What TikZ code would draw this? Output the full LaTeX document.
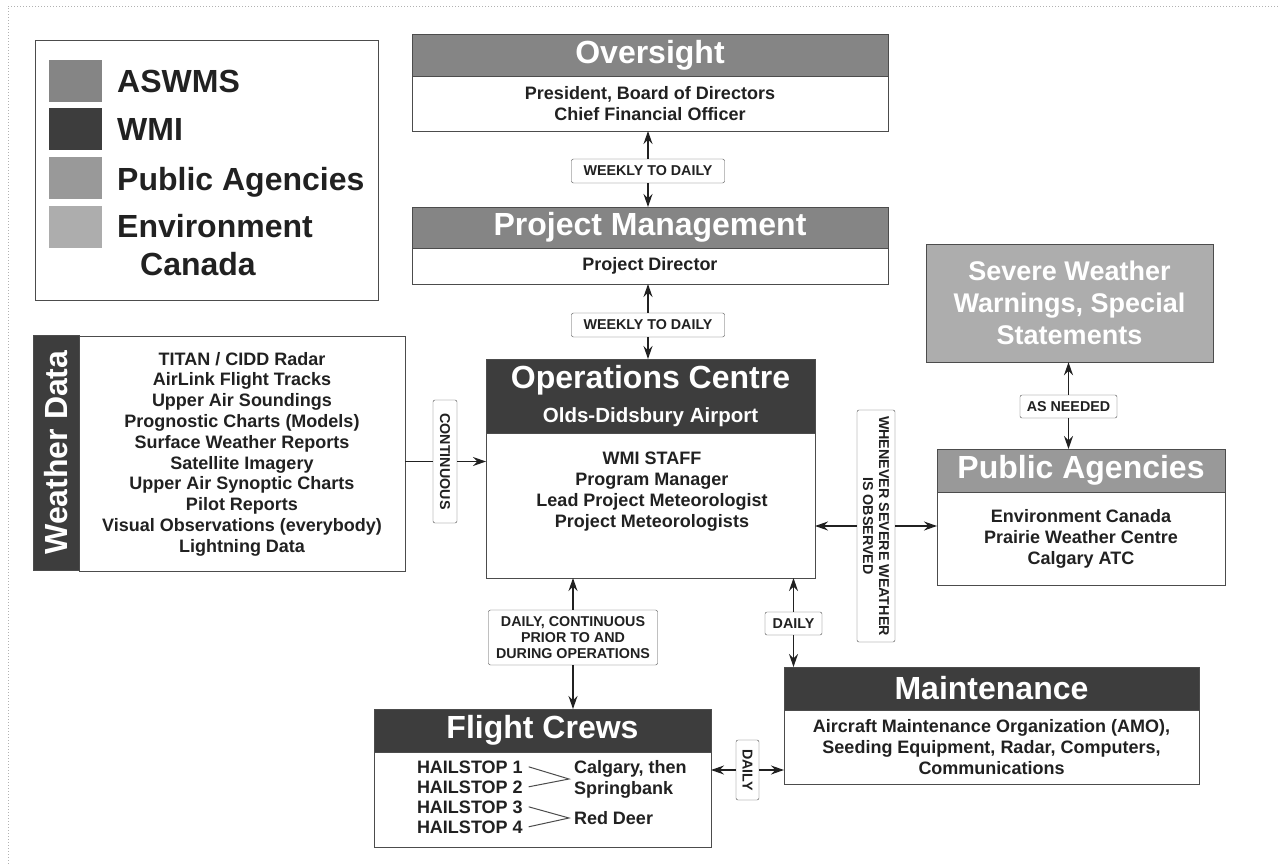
\documentclass[tikz,border=0pt]{standalone}
\usepackage{fontspec}
\setmainfont{Liberation Sans}
\usetikzlibrary{arrows.meta,positioning,calc}
\definecolor{aswms}{gray}{0.52}
\definecolor{wmi}{gray}{0.24}
\definecolor{pubag}{gray}{0.6}
\definecolor{envcan}{gray}{0.68}
\definecolor{edge}{gray}{0.3}
\definecolor{ink}{gray}{0.13}
\tikzset{headbox/.style={rectangle, draw=edge, fill=#1, text=white, inner sep=0pt, outer sep=0pt, minimum height=42pt, align=center, font=\fontsize{32}{36}\selectfont\bfseries},
bodytext/.style={inner sep=0pt, outer sep=0pt, align=center, text=ink, font=\fontsize{18}{21}\selectfont\bfseries},
bodybox/.style={bodytext, rectangle, draw=edge, fill=white},
tagbox/.style={rectangle, rounded corners=2pt, draw=edge, fill=white, inner xsep=4pt, inner ysep=0pt, align=center, text=ink, font=\fontsize{14.3}{16}\selectfont\bfseries},
wire/.style={draw=ink, line width=1.3pt},
onearrow/.style={-{Stealth[length=13pt,width=9pt]}},
swatch/.style={rectangle, fill=#1, minimum width=53pt, minimum height=42pt, inner sep=0pt, anchor=north west},
legendtext/.style={anchor=base west, inner sep=0pt, text=ink, font=\fontsize{32}{36}\selectfont\bfseries}}

\begin{document}
\begin{tikzpicture}[x=1pt,y=-1pt]
		\useasboundingbox (0,0) rectangle (1278,865);
		\draw[dotted, gray!60, line width=1pt] (1278,6) -- (8,6) -- (8,865);
		% legend
		\node[draw=edge, line width=1.3pt, minimum width=343pt, minimum height=260pt, anchor=north west] (legend) at (35,40) {};
		\node[swatch=aswms] (swa) at (49,60) {};
		\node[swatch=wmi] (swb) at (49,108) {};
		\node[swatch=pubag] (swc) at (49,157) {};
		\node[swatch=envcan] (swd) at (49,206) {};
		\node[legendtext] (lga) at (117,92) {ASWMS};
		\node[legendtext] (lgb) at (117,140) {WMI};
		\node[legendtext] (lgc) at (117,190) {Public Agencies};
		\node[legendtext] (lgd) at (117,237) {Environment};
		\node[legendtext] (lge) at (140,275) {Canada};
		% management chain
		\node[headbox=aswms, minimum width=476pt, anchor=north west] (oversighthead) at (412,34) {Oversight};
		\node[bodybox, minimum width=476pt, minimum height=55pt, below=0pt of oversighthead] (oversightbody) {President, Board of Directors\\Chief Financial Officer};
		\node[headbox=aswms, minimum width=476pt, minimum height=41pt, anchor=north west] (pmhead) at (412,207) {Project Management};
		\node[bodybox, minimum width=476pt, minimum height=36pt, below=0pt of pmhead] (pmbody) {Project Director};
		\node[headbox=wmi, minimum width=329pt, minimum height=74pt, anchor=north west] (opshead) at (486,359) {Operations Centre\\[-2pt]{\fontsize{20.5}{24}\selectfont Olds-Didsbury Airport}};
		\node[bodybox, minimum width=329pt, minimum height=145pt, below=0pt of opshead] (opsbody) {};
		\node[bodytext, anchor=north] (opstext) at (652,452) {WMI STAFF\\Program Manager\\Lead Project Meteorologist\\Project Meteorologists};
		% weather data
		\node[rectangle, draw=edge, fill=wmi, text=white, rotate=90, minimum width=235pt, minimum height=46pt, inner sep=0pt, font=\fontsize{32}{36}\selectfont\bfseries] (wxstrip) at (56,452.5) {Weather Data};
		\node[bodybox, minimum width=326pt, minimum height=235pt, font=\fontsize{18}{20.8}\selectfont\bfseries] (wxbody) at (242,454) {TITAN / CIDD Radar\\AirLink Flight Tracks\\Upper Air Soundings\\Prognostic Charts (Models)\\Surface Weather Reports\\Satellite Imagery\\Upper Air Synoptic Charts\\Pilot Reports\\Visual Observations (everybody)\\Lightning Data};
		% public agencies
		\node[rectangle, draw=edge, fill=envcan, text=white, minimum width=287pt, minimum height=118pt, inner sep=0pt, align=center, font=\fontsize{27}{32}\selectfont\bfseries] (severe) at (1069.5,303) {Severe Weather\\Warnings, Special\\Statements};
		\node[headbox=pubag, minimum width=288pt, minimum height=43pt, anchor=north west] (pahead) at (937,449) {Public Agencies};
		\node[bodybox, minimum width=288pt, minimum height=93pt, below=0pt of pahead] (pabody) {Environment Canada\\Prairie Weather Centre\\Calgary ATC};
		% maintenance
		\node[headbox=wmi, minimum width=415pt, minimum height=43pt, anchor=north west] (mhead) at (784,667) {Maintenance};
		\node[bodybox, minimum width=415pt, minimum height=74pt, below=0pt of mhead] (mbody) {Aircraft Maintenance Organization (AMO),\\Seeding Equipment, Radar, Computers,\\Communications};
		% flight crews
		\node[headbox=wmi, minimum width=337pt, minimum height=43pt, anchor=north west] (fchead) at (374,709) {Flight Crews};
		\node[bodybox, minimum width=337pt, minimum height=95pt, below=0pt of fchead] (fcbody) {};
		\node[bodytext, anchor=base west] (hs1) at (417,773) {HAILSTOP 1};
		\node[bodytext, anchor=base west] (hs2) at (417,793) {HAILSTOP 2};
		\node[bodytext, anchor=base west] (hs3) at (417,813) {HAILSTOP 3};
		\node[bodytext, anchor=base west] (hs4) at (417,833) {HAILSTOP 4};
		\node[bodytext, align=left, anchor=west] (calg) at (574,779) {Calgary, then\\Springbank};
		\node[bodytext, anchor=west] (rdeer) at (574,818) {Red Deer};
		\draw[edge, line width=1pt] ([xshift=6pt]hs1.east) -- ([xshift=-5pt]calg.west) -- ([xshift=6pt]hs2.east);
		\draw[edge, line width=1pt] ([xshift=6pt]hs3.east) -- ([xshift=-5pt]rdeer.west) -- ([xshift=6pt]hs4.east);
		% links
		\node[tagbox, minimum width=153pt, minimum height=24pt] (weekly1) at (648,171) {WEEKLY TO DAILY};
		\node[tagbox, minimum width=153pt, minimum height=24pt] (weekly2) at (648,325) {WEEKLY TO DAILY};
		\node[tagbox, rotate=-90, minimum width=123pt, minimum height=24pt] (conttag) at (445,461.5) {CONTINUOUS};
		\node[tagbox, rotate=-90, minimum width=232pt, minimum height=38pt] (severetag) at (876,526) {WHENEVER SEVERE WEATHER\\IS OBSERVED};
		\node[tagbox, minimum width=97pt, minimum height=23pt] (neededtag) at (1068.5,406.5) {AS NEEDED};
		\node[tagbox, minimum width=169pt, minimum height=55pt] (opstag) at (573,637.5) {DAILY, CONTINUOUS\\PRIOR TO AND\\DURING OPERATIONS};
		\node[tagbox, minimum width=57pt, minimum height=23pt] (dailytag) at (793.5,623.5) {DAILY};
		\node[tagbox, rotate=-90, minimum width=60pt, minimum height=23pt] (crewtag) at (747.5,770) {DAILY};
		\draw[wire, onearrow] (weekly1) -- (oversightbody.south -| weekly1);
		\draw[wire, onearrow] (weekly1) -- (pmhead.north -| weekly1);
		\draw[wire, onearrow] (weekly2) -- (pmbody.south -| weekly2);
		\draw[wire, onearrow] (weekly2) -- (opshead.north -| weekly2);
		\draw[wire] (wxbody.east |- conttag) -- (conttag);
		\draw[wire, onearrow] (conttag) -- (opsbody.west |- conttag);
		\draw[wire, onearrow] (severetag) -- (opsbody.east |- severetag);
		\draw[wire, onearrow] (severetag) -- (pabody.west |- severetag);
		\draw[wire, onearrow] (neededtag) -- (severe.south -| neededtag);
		\draw[wire, onearrow] (neededtag) -- (pahead.north -| neededtag);
		\draw[wire, onearrow] (opstag) -- (opsbody.south -| opstag);
		\draw[wire, onearrow] (opstag) -- (fchead.north -| opstag);
		\draw[wire, onearrow] (dailytag) -- (opsbody.south -| dailytag);
		\draw[wire, onearrow] (dailytag) -- (mhead.north -| dailytag);
		\draw[wire, onearrow] (crewtag) -- (fcbody.east |- crewtag);
		\draw[wire, onearrow] (crewtag) -- (mbody.west |- crewtag);
		\end{tikzpicture}
\end{document}
